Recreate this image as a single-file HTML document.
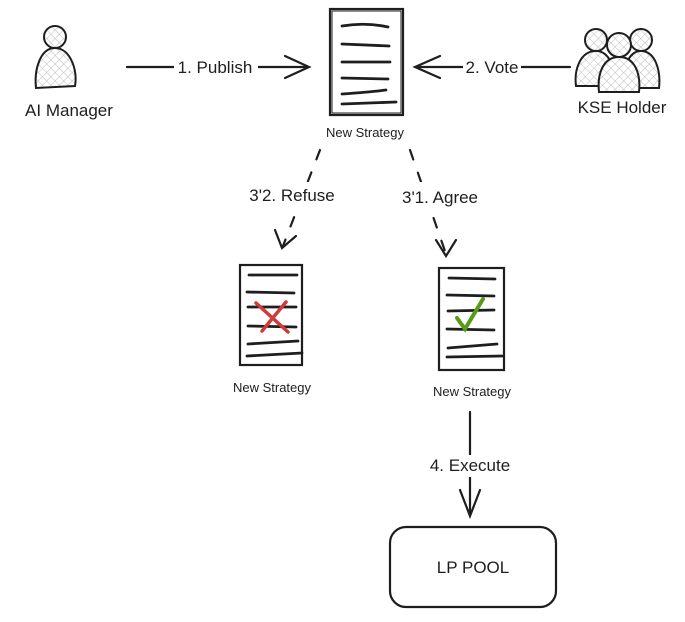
<!DOCTYPE html>
<html><head><style>
body{margin:0;background:#fff;}
svg text{font-family:"Liberation Sans",sans-serif;fill:#1e1e1e;}
</style></head><body>
<svg width="685" height="617" viewBox="0 0 685 617" xmlns="http://www.w3.org/2000/svg">
<defs>
<pattern id="hatch" width="6" height="6" patternUnits="userSpaceOnUse" patternTransform="rotate(45)">
<rect width="6" height="6" fill="#fff"/><line x1="0" y1="0" x2="0" y2="6" stroke="#bbb" stroke-width="1"/><line x1="0" y1="0" x2="6" y2="0" stroke="#bbb" stroke-width="1"/>
</pattern>
</defs>
<g stroke="#1e1e1e" stroke-width="2" fill="url(#hatch)">
<circle cx="55" cy="37" r="11"/>
<path d="M36 88 C34 70 40 48 55 48 C70 48 78 70 75 86 Z"/>
<circle cx="596" cy="40" r="11"/>
<path d="M576 86 C574 70 580 51 596 51 C610 51 616 70 614 86 Z"/>
<circle cx="641" cy="40" r="11"/>
<path d="M624 88 C622 70 628 51 641 51 C655 51 661 70 659 88 Z"/>
<circle cx="619" cy="45" r="12"/>
<path d="M599 92 C597 74 603 57 619 57 C635 57 641 74 639 92 Z"/>
</g>
<g fill="none" stroke="#1e1e1e" stroke-width="2.2" stroke-linecap="round">
<rect x="330" y="9" width="73" height="106"/><rect x="332" y="11" width="69" height="102" stroke-width="1"/>
<path d="M342 26 Q365 22 388 27 M342 44 L389 46 M342 62 L390 62 M342 78 L388 79 M342 94 Q370 92 386 90 M342 104 L396 102" stroke-width="2.8"/>
<rect x="240" y="265" width="62" height="100"/>
<path d="M249 275 L297 275 M247 292 L294 293 M248 307 L296 307 M248 326 L296 327 M248 344 L298 341 M247 356 L302 353" stroke-width="2.8"/>
<rect x="439" y="268" width="65" height="102"/>
<path d="M449 278 L495 279 M447 295 L494 296 M448 311 L494 310 M447 329 L494 330 M448 348 L497 344 M447 357 L502 356" stroke-width="2.8"/>
<path d="M127 67 L308 67 M285 56 L309 67 L285 78"/>
<path d="M570 67 L416 67 M440 56 L415 67 L440 78"/>
<path d="M320 150 L283 246" stroke-dasharray="10 14"/>
<path d="M275 230 L282 248 L296 236"/>
<path d="M410 150 L446 254" stroke-dasharray="10 14"/>
<path d="M436 240 L446 256 L456 240"/>
<path d="M470 412 L470 515 M460 490 L470 516 L480 490"/>
<rect x="390" y="527" width="166" height="80" rx="16"/>
</g>
<rect x="174" y="56" width="84" height="22" fill="#fff"/>
<rect x="463" y="56" width="58" height="22" fill="#fff"/>
<rect x="247" y="182" width="90" height="26" fill="#fff"/>
<rect x="400" y="182" width="80" height="26" fill="#fff"/>
<rect x="428" y="455" width="84" height="22" fill="#fff"/>
<path d="M256 303 L288 332 M286 302 L262 331" stroke="#d03a3a" stroke-width="3.5" stroke-linecap="round" fill="none"/>
<path d="M457 318 L465 329 L483 299" stroke="#5a9a1a" stroke-width="4" stroke-linecap="round" fill="none"/>
<text x="69" y="116" font-size="17" text-anchor="middle">AI Manager</text>
<text x="215" y="73" font-size="17" text-anchor="middle">1. Publish</text>
<text x="492" y="73" font-size="17" text-anchor="middle">2. Vote</text>
<text x="622" y="113" font-size="17" text-anchor="middle">KSE Holder</text>
<text x="365" y="137" font-size="13" text-anchor="middle">New Strategy</text>
<text x="292" y="201" font-size="17" text-anchor="middle">3'2. Refuse</text>
<text x="440" y="203" font-size="17" text-anchor="middle">3'1. Agree</text>
<text x="272" y="392" font-size="13" text-anchor="middle">New Strategy</text>
<text x="472" y="396" font-size="13" text-anchor="middle">New Strategy</text>
<text x="470" y="471" font-size="17" text-anchor="middle">4. Execute</text>
<text x="473" y="573" font-size="17" text-anchor="middle">LP POOL</text>
</svg>
</body></html>
